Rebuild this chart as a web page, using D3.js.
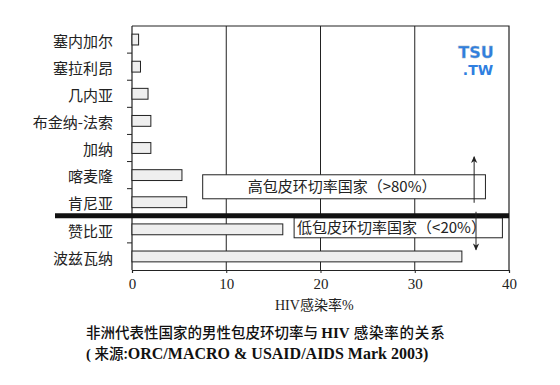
<!DOCTYPE html>
<html>
<head>
<meta charset="utf-8">
<script src="https://cdn.jsdelivr.net/npm/d3@7"></script>
<style>
  body { margin: 0; background: #fff; }
  svg { display: block; }
</style>
</head>
<body>
<div id="app"></div>
<script>
// Countries, top to bottom
const countries = ["塞内加尔", "塞拉利昂", "几内亚", "布金纳-法索", "加纳", "喀麦隆", "肯尼亚", "赞比亚", "波兹瓦纳"];
// HIV infection rate %
const hivRate = [0.7, 0.9, 1.7, 2.0, 2.0, 5.3, 5.8, 16, 35];
// first country of the low circumcision group
const lowGroupStart = "赞比亚";
const xTicks = [0, 10, 20, 30, 40];
const gridTicks = [10, 20, 30];
const highLabel = "高包皮环切率国家（>80%）";
const lowLabel = "低包皮环切率国家（<20%）";

const width = 560;
const height = 385;
const cjk = "'Noto Sans CJK SC', sans-serif";
const serif = "'Liberation Serif', 'DejaVu Serif', serif";
const ink = "#222";

const svg = d3.select("#app")
  .append("svg")
  .attr("width", width)
  .attr("height", height);

const x = d3.scaleLinear().domain([0, 40]).range([132, 509]);
const y = d3.scaleBand()
  .domain(countries)
  .range([26, 270])
  .paddingInner(0.6)
  .paddingOuter(0.3);

const step = y.step();
const plotTop = 26, plotBottom = 270;

// arrow heads
const defs = svg.append("defs");
defs.append("marker")
  .attr("id", "head")
  .attr("viewBox", "0 0 10 10")
  .attr("refX", 9)
  .attr("refY", 5)
  .attr("markerWidth", 11)
  .attr("markerHeight", 7)
  .attr("markerUnits", "userSpaceOnUse")
  .attr("orient", "auto")
  .append("path")
  .attr("d", "M0,0.5 L10,5 L0,9.5 L3,5 Z")
  .attr("fill", ink);

// grid lines
svg.append("g")
  .selectAll("line")
  .data(gridTicks)
  .enter()
  .append("line")
  .attr("x1", d => x(d))
  .attr("x2", d => x(d))
  .attr("y1", plotTop)
  .attr("y2", plotBottom)
  .attr("stroke", ink)
  .attr("stroke-width", 1);

// frame: top and right
svg.append("path")
  .attr("d", `M${x(0)},${plotTop} H${x(40)} V${plotBottom}`)
  .attr("fill", "none")
  .attr("stroke", ink)
  .attr("stroke-width", 1.2);

// left axis line
svg.append("line")
  .attr("x1", x(0)).attr("x2", x(0))
  .attr("y1", plotTop).attr("y2", plotBottom)
  .attr("stroke", ink)
  .attr("stroke-width", 1.2);

// left ticks at band boundaries (not at the separator)
const boundaries = countries.slice(1).filter(c => c !== lowGroupStart);
svg.append("g")
  .selectAll("line")
  .data(boundaries)
  .enter()
  .append("line")
  .attr("x1", x(0) - 5)
  .attr("x2", x(0))
  .attr("y1", d => y(d) - step * 0.3)
  .attr("y2", d => y(d) - step * 0.3)
  .attr("stroke", ink);

// bars
svg.append("g")
  .selectAll("rect")
  .data(countries)
  .enter()
  .append("rect")
  .attr("x", x(0))
  .attr("y", d => y(d))
  .attr("width", (d, i) => x(hivRate[i]) - x(0))
  .attr("height", y.bandwidth())
  .attr("fill", "#efefef")
  .attr("stroke", ink)
  .attr("stroke-width", 1);

// country labels
svg.append("g")
  .selectAll("text")
  .data(countries)
  .enter()
  .append("text")
  .attr("x", 113)
  .attr("y", d => y(d) + y.bandwidth() / 2 + 2)
  .attr("dy", "0.35em")
  .attr("text-anchor", "end")
  .attr("font-family", cjk)
  .attr("font-size", 15)
  .attr("fill", ink)
  .text(d => d);

// separator between groups
const sepY = y(lowGroupStart) - step * 0.3;

// high group box
svg.append("rect")
  .attr("x", x(7.5))
  .attr("y", sepY - 41)
  .attr("width", x(37.5) - x(7.5))
  .attr("height", 24)
  .attr("fill", "#fff")
  .attr("stroke", ink)
  .attr("stroke-width", 1);
svg.append("text")
  .attr("x", (x(7.5) + x(37.5)) / 2 - 2)
  .attr("y", sepY - 29)
  .attr("dy", "0.35em")
  .attr("text-anchor", "middle")
  .attr("font-family", cjk)
  .attr("font-size", 15)
  .attr("fill", ink)
  .text(highLabel);

// low group box
svg.append("rect")
  .attr("x", x(17.2))
  .attr("y", sepY + 2)
  .attr("width", x(39.3) - x(17.2))
  .attr("height", 20)
  .attr("fill", "#fff")
  .attr("stroke", ink)
  .attr("stroke-width", 1);
svg.append("text")
  .attr("x", x(17.2) + 3)
  .attr("y", sepY + 12)
  .attr("dy", "0.35em")
  .attr("font-family", cjk)
  .attr("font-size", 15)
  .attr("fill", ink)
  .text(lowLabel);

svg.append("line")
  .attr("x1", 55)
  .attr("x2", x(40))
  .attr("y1", sepY)
  .attr("y2", sepY)
  .attr("stroke", "#111")
  .attr("stroke-width", 5);

// arrows
svg.append("line")
  .attr("x1", x(36.3)).attr("x2", x(36.3))
  .attr("y1", sepY - 13).attr("y2", sepY - 59)
  .attr("stroke", ink)
  .attr("marker-end", "url(#head)");
svg.append("line")
  .attr("x1", x(36.5)).attr("x2", x(36.5))
  .attr("y1", sepY - 4).attr("y2", sepY + 34)
  .attr("stroke", ink)
  .attr("marker-end", "url(#head)");

// bottom axis
const xAxis = d3.axisBottom(x)
  .tickValues(xTicks)
  .tickSize(3)
  .tickPadding(5);
const gx = svg.append("g")
  .attr("transform", `translate(0, ${plotBottom})`)
  .call(xAxis);
gx.select(".domain").attr("stroke", ink).attr("stroke-width", 1.2);
gx.selectAll(".tick line").attr("stroke", ink);
gx.selectAll(".tick text")
  .attr("font-family", serif)
  .attr("font-size", 15)
  .attr("fill", ink);

// axis title
const xt = svg.append("text")
  .attr("x", 275)
  .attr("y", 310)
  .attr("font-size", 14)
  .attr("fill", ink);
xt.append("tspan").attr("font-family", serif).text("HIV");
xt.append("tspan").attr("font-family", cjk).text("感染率");
xt.append("tspan").attr("font-family", serif).text("%");

// watermark
svg.append("text")
  .attr("x", 476).attr("y", 58)
  .attr("text-anchor", "middle")
  .attr("font-family", "'DejaVu Sans', sans-serif")
  .attr("font-weight", "bold")
  .attr("font-size", 16)
  .attr("fill", "#2f7fe0")
  .attr("stroke", "#9ab")
  .attr("stroke-width", 0.3)
  .text("TSU");
svg.append("text")
  .attr("x", 478).attr("y", 75)
  .attr("text-anchor", "middle")
  .attr("font-family", "'DejaVu Sans', sans-serif")
  .attr("font-weight", "bold")
  .attr("font-size", 14)
  .attr("fill", "#2f7fe0")
  .text(".TW");

// caption
const cap1 = svg.append("text")
  .attr("x", 86)
  .attr("y", 338)
  .attr("font-size", 14.5)
  .attr("fill", "#111");
cap1.append("tspan").attr("font-family", cjk).attr("font-weight", 500).text("非洲代表性国家的男性包皮环切率与 ");
cap1.append("tspan").attr("font-family", serif).attr("font-weight", "bold").attr("font-size", 15).text("HIV");
cap1.append("tspan").attr("font-family", cjk).attr("font-weight", 500).attr("letter-spacing", 0.8).text(" 感染率的关系");

const cap2 = svg.append("text")
  .attr("x", 86)
  .attr("y", 359)
  .attr("font-size", 14.5)
  .attr("fill", "#111");
cap2.append("tspan").attr("font-family", serif).attr("font-weight", "bold").text("( ");
cap2.append("tspan").attr("font-family", cjk).attr("font-weight", 500).text("来源:");
cap2.append("tspan").attr("font-family", serif).attr("font-weight", "bold").attr("font-size", 16).text("ORC/MACRO & USAID/AIDS Mark 2003)");
</script>
</body>
</html>
